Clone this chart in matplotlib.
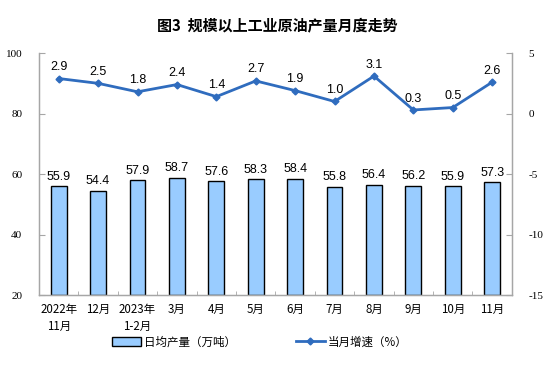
import matplotlib
matplotlib.use("Agg")
import matplotlib.pyplot as plt
import numpy as np

months = ["2022年\n11月", "12月", "2023年\n1-2月", "3月", "4月", "5月",
          "6月", "7月", "8月", "9月", "10月", "11月"]
daily_output = [55.9, 54.4, 57.9, 58.7, 57.6, 58.3, 58.4, 55.8, 56.4, 56.2, 55.9, 57.3]
growth = [2.9, 2.5, 1.8, 2.4, 1.4, 2.7, 1.9, 1.0, 3.1, 0.3, 0.5, 2.6]
left_ticks = [20, 40, 60, 80, 100]
right_ticks = [5, 0, -5, -10, -15]

CJK = ["Noto Sans CJK SC", "DejaVu Sans"]
SERIF = "Liberation Serif"
SANS = "Liberation Sans"
BAR_COLOR = "#99CCFF"
LINE_COLOR = "#2F6CBE"
SPINE = "#A6A6A6"

fig = plt.figure(figsize=(5.54, 3.74), dpi=100)
ax = fig.add_axes([0.0704, 0.2112, 0.8536, 0.6468])
ax2 = ax.twinx()

x = np.arange(len(months))
bars = ax.bar(x, [v - 20 for v in daily_output], bottom=20, width=0.4,
              color=BAR_COLOR, edgecolor="black", linewidth=1.0,
              label="日均产量（万吨）", zorder=2)
for xi, v in zip(x, daily_output):
    ax.text(xi, v + 1.2, f"{v:.1f}", ha="center", va="bottom",
            fontsize=9, family=SANS)

ax2.plot(x, growth, color=LINE_COLOR, linewidth=2.0, marker="D",
         markersize=3.5, label="当月增速（%）", zorder=3)
for xi, v in zip(x, growth):
    ax2.text(xi, v + 0.45, f"{v:.1f}", ha="center", va="bottom",
             fontsize=9, family=SANS)

ax.set_xlim(-0.5, len(months) - 0.5)
ax.set_ylim(20, 100)
ax2.set_ylim(-15, 5)
ax.set_yticks(left_ticks)
ax2.set_yticks(right_ticks)
ax.set_yticklabels([str(t) for t in left_ticks], family=SERIF, fontsize=8)
ax2.set_yticklabels([str(t) for t in right_ticks], family=SERIF, fontsize=8)

ax.set_xticks(x)
ax.set_xticklabels(months, family=CJK, fontsize=8.3, linespacing=1.35)
ax.set_xticks(np.arange(-0.5, len(months), 1.0), minor=True)
ax.tick_params(axis="x", which="major", length=0, pad=6)
ax.tick_params(axis="x", which="minor", direction="in", length=3, color=SPINE)
ax.tick_params(axis="y", direction="in", length=4, color=SPINE, pad=12)
ax2.tick_params(axis="y", direction="in", length=4, color=SPINE, pad=12)

for a in (ax, ax2):
    a.spines["top"].set_visible(False)
    for s in ("left", "right", "bottom"):
        a.spines[s].set_color(SPINE)
        a.spines[s].set_linewidth(0.9)

fig.text(0.5, 1 - 25 / 374, "图3  规模以上工业原油产量月度走势", ha="center",
         va="center", fontsize=10.8, family=CJK, fontweight="bold")

handles = [bars, ax2.get_lines()[0]]
labels = ["日均产量（万吨）", "当月增速（%）"]
fig.legend(handles, labels, loc="center", bbox_to_anchor=(0.469, 1 - 342 / 374),
           ncol=2, frameon=False, prop={"family": CJK, "size": 8.3},
           columnspacing=5.2, handlelength=2.5, handletextpad=0.3)

fig.savefig("out.png", dpi=100)
